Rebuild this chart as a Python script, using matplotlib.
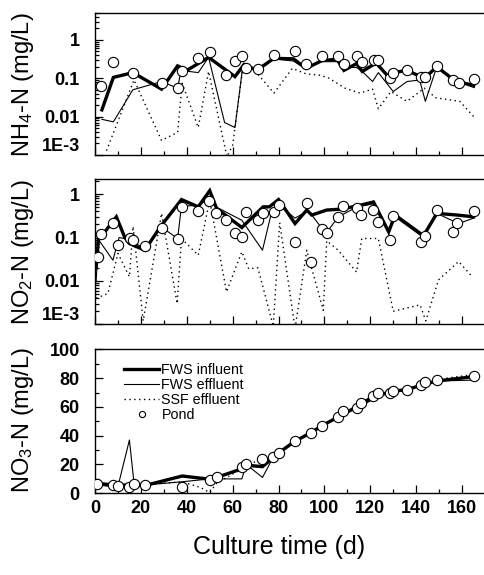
import numpy as np
import matplotlib
matplotlib.use('Agg')
from matplotlib import pyplot as plt
from matplotlib.ticker import LogLocator, NullFormatter, FixedLocator, MultipleLocator

plt.rcParams['font.family'] = ['Liberation Sans', 'DejaVu Sans']
plt.rcParams['mathtext.fontset'] = 'custom'
plt.rcParams['mathtext.rm'] = 'Liberation Sans'
plt.rcParams['mathtext.it'] = 'Liberation Sans:italic'
plt.rcParams['mathtext.bf'] = 'Liberation Sans:bold'

# ---- NH4-N panel
nh4_in_d = [3, 8, 16.5, 29, 36, 40, 49.5, 61, 65, 70.5, 78, 86.5, 92, 99, 105.5, 108.5, 114, 116.5,
            122.5, 128.5, 130, 136, 142, 144, 149, 156, 165]
nh4_in_v = [0.015, 0.105, 0.14, 0.052, 0.21, 0.16, 0.35, 0.11, 0.23, 0.16, 0.33, 0.32, 0.18, 0.29,
            0.31, 0.16, 0.24, 0.15, 0.25, 0.10, 0.14, 0.16, 0.11, 0.105, 0.20, 0.094, 0.062]
nh4_eff_d = [3, 8, 16.5, 29, 36, 37.5, 45, 49.5, 56.5, 61, 64.5, 70.5, 78, 86.5, 91.5, 98, 105.5,
             108.5, 114, 116, 121, 123.5, 130, 136, 141.5, 144, 149, 156, 165]
nh4_eff_v = [0.0085, 0.0073, 0.05, 0.082, 0.055, 0.16, 0.14, 0.35, 0.0070, 0.0052, 0.22, 0.16, 0.32,
             0.28, 0.18, 0.27, 0.27, 0.2, 0.19, 0.16, 0.082, 0.14, 0.045, 0.082, 0.09, 0.025, 0.20,
             0.09, 0.07]
nh4_ssf_d = [5, 17, 29, 36, 38, 45, 49.5, 57.5, 60, 64.5, 70, 78, 86, 92, 98, 102, 109, 115.5, 121,
             123.5, 129, 136, 143.5, 148.5, 159, 165.5]
nh4_ssf_v = [0.0013, 0.09, 0.0024, 0.0039, 0.074, 0.0052, 0.15, 0.0009, 0.0018, 0.2, 0.15, 0.041,
             0.18, 0.13, 0.12, 0.10, 0.055, 0.041, 0.052, 0.016, 0.045, 0.025, 0.055, 0.031, 0.025,
             0.0094]
nh4_pond_d = [2.5, 8, 16.5, 29, 36, 38, 45, 50, 57, 61, 64, 66, 71, 78, 87, 92, 99, 106, 108.5, 114,
              116.5, 121.5, 123.5, 128.5, 130, 136, 142, 144, 149, 156, 158.5, 165]
nh4_pond_v = [0.063, 0.27, 0.14, 0.077, 0.055, 0.15, 0.33, 0.49, 0.125, 0.28, 0.38, 0.19, 0.17, 0.41,
              0.51, 0.24, 0.37, 0.37, 0.24, 0.38, 0.27, 0.30, 0.30, 0.10, 0.14, 0.16, 0.11, 0.106,
              0.21, 0.09, 0.077, 0.096]

# ---- NO2-N panel
no2_in_d = [0.5, 1.5, 3, 9.3, 13, 15, 21.7, 28.6, 37.7, 45, 50, 53, 64, 73.3, 76, 80, 87.2, 92.3,
            94.5, 101, 106.8, 114, 121.4, 128, 130.8, 143.2, 149, 157.8, 165]
no2_in_v = [0.02, 0.09, 0.11, 0.30, 0.10, 0.073, 0.051, 0.18, 0.75, 0.51, 1.2, 0.47, 0.17, 0.51,
            0.51, 0.75, 0.21, 0.43, 0.33, 0.43, 0.45, 0.53, 0.66, 0.135, 0.33, 0.11, 0.36, 0.33, 0.30]
no2_eff_d = [0.5, 1.5, 7.8, 10.5, 15, 21.7, 28.6, 36, 37.7, 45, 50, 53, 64, 73, 77, 80.3, 87.2, 92.3,
             94.5, 99, 101, 106, 114, 121.4, 128, 130.8, 143.2, 149, 158.5, 165]
no2_eff_v = [0.01, 0.09, 0.030, 0.10, 0.09, 0.055, 0.18, 0.095, 0.53, 0.55, 0.8, 0.5, 0.25, 0.051,
             0.39, 0.55, 0.28, 0.40, 0.33, 0.16, 0.13, 0.30, 0.50, 0.60, 0.14, 0.30, 0.10, 0.36,
             0.21, 0.28]
no2_ssf_d = [0.5, 5.6, 10, 15, 16.6, 21, 29, 35.8, 37.7, 45, 50, 57.3, 64, 67, 71, 77.7, 80.5, 87.2,
             92.3, 99.5, 101, 106, 114, 116.3, 123.5, 130, 141.7, 144.2, 149.7, 158.5, 164.5]
no2_ssf_v = [0.004, 0.0051, 0.043, 0.0125, 0.18, 0.0012, 0.36, 0.003, 0.095, 0.039, 0.73, 0.0056,
             0.047, 0.019, 0.02, 0.0009, 0.22, 0.0008, 0.051, 0.0021, 0.084, 0.051, 0.016, 0.095,
             0.095, 0.002, 0.0028, 0.0012, 0.0105, 0.028, 0.0124]
no2_pond_d = [1.3, 2.7, 7.8, 10, 15.4, 16.6, 22, 29, 36, 38, 45, 49.8, 52.7, 57, 61, 64, 66, 71.2,
              73.3, 78, 80, 87.2, 92.3, 94, 99, 101.3, 106, 108.3, 114, 116, 121, 123.3, 128.4, 130,
              142, 144, 149, 156, 158, 165]
no2_pond_v = [0.035, 0.12, 0.22, 0.067, 0.095, 0.09, 0.063, 0.17, 0.092, 0.51, 0.41, 0.70, 0.37,
              0.26, 0.13, 0.105, 0.39, 0.25, 0.36, 0.39, 0.56, 0.08, 0.61, 0.027, 0.16, 0.13, 0.30,
              0.53, 0.49, 0.33, 0.43, 0.23, 0.087, 0.31, 0.08, 0.11, 0.43, 0.135, 0.22, 0.41]

# ---- NO3-N panel
no3_in_d = [0.5, 8, 22, 38, 50, 53, 64, 66, 73, 80, 87, 94, 99, 106, 114, 121, 130, 136, 142, 149, 165]
no3_in_v = [7, 5.8, 5.5, 12, 9.8, 11, 17, 19.5, 18.5, 28, 36, 42, 47, 53, 60, 67, 71, 72, 75, 78, 81]
no3_eff_d = [0.5, 8, 10, 15, 17, 22, 38, 50, 64, 66, 73, 77, 80, 87, 94, 99, 106, 114, 121, 130, 136,
             142, 149, 165]
no3_eff_v = [5.8, 4.6, 4.8, 37, 7, 5.8, 8, 10, 10, 20, 11, 23, 28, 36, 42, 47, 53, 59, 65, 71, 72,
             74.5, 78, 78.6]
no3_ssf_d = [0.5, 8, 22, 38, 46, 50, 53, 64, 66, 70, 73, 80, 87, 94, 99, 106, 114, 121, 130, 136, 142,
             149, 165]
no3_ssf_v = [6, 5, 6, 8, 4, 0.5, 7, 17, 19, 22, 21, 28, 36, 42, 47, 53, 60, 66, 71, 72, 75, 79, 82.5]
no3_pond_d = [1, 7.8, 10, 15, 17, 22, 38, 50, 53, 64, 66, 73, 77.5, 80, 87, 94, 99, 106, 108.3, 114,
              116, 121, 123.3, 128.4, 130, 136, 142, 144, 149, 165]
no3_pond_v = [6.5, 5.8, 5.1, 4.6, 6.5, 6, 4.6, 9.2, 11, 18.5, 20, 24, 25.4, 28.2, 36.3, 42, 47, 53,
              57, 59, 63, 67.6, 69.4, 70, 71.3, 71.7, 75.2, 77.5, 78.7, 81.7]

labels = ['FWS influent', 'FWS effluent', 'SSF effluent', 'Pond']

fig = plt.figure(figsize=(4.85, 5.75), dpi=100)
ax1 = fig.add_axes([0.1959, 0.7304, 0.8041, 0.2470])
ax2 = fig.add_axes([0.1959, 0.4360, 0.8041, 0.2522])
ax3 = fig.add_axes([0.1959, 0.1421, 0.8041, 0.2504])

panels = [
    (ax1, nh4_in_d, nh4_in_v, nh4_eff_d, nh4_eff_v, nh4_ssf_d, nh4_ssf_v, nh4_pond_d, nh4_pond_v),
    (ax2, no2_in_d, no2_in_v, no2_eff_d, no2_eff_v, no2_ssf_d, no2_ssf_v, no2_pond_d, no2_pond_v),
    (ax3, no3_in_d, no3_in_v, no3_eff_d, no3_eff_v, no3_ssf_d, no3_ssf_v, no3_pond_d, no3_pond_v),
]

for ax, d1, v1, d2, v2, d3, v3, d4, v4 in panels:
    ax.plot(d1, v1, color='black', lw=2.4, solid_joinstyle='miter', label=labels[0], zorder=3)
    ax.plot(d2, v2, color='black', lw=0.8, label=labels[1], zorder=2)
    ax.plot(d3, v3, color='black', lw=1.0, ls=(0, (1, 2.5)), label=labels[2], zorder=1)
    ax.plot(d4, v4, ls='none', marker='o', ms=7.4, mfc='white', mec='black', mew=0.8,
            label=labels[3], zorder=4)
    ax.set_xlim(0, 170)
    ax.spines['right'].set_visible(False)
    for s in ['left', 'top', 'bottom']:
        ax.spines[s].set_linewidth(1.0)
    ax.xaxis.set_major_locator(MultipleLocator(20))
    ax.xaxis.set_minor_locator(MultipleLocator(10))
    ax.tick_params(which='both', direction='in', top=False, right=False, width=0.9)
    ax.tick_params(which='major', length=5.5)
    ax.tick_params(which='minor', length=3)
    ax.tick_params(axis='y', labelsize=13, pad=11)
    ax.tick_params(axis='x', labelsize=13, pad=5)
    for t in ax.get_xticklabels() + ax.get_yticklabels():
        t.set_fontweight('bold')

for ax, top in [(ax1, 5), (ax2, 2.2)]:
    ax.set_yscale('log')
    ax.set_ylim(1e-3, top)
    ax.yaxis.set_major_locator(FixedLocator([1e-3, 1e-2, 1e-1, 1]))
    ax.yaxis.set_minor_locator(LogLocator(base=10, subs=np.arange(2, 10)))
    ax.yaxis.set_minor_formatter(NullFormatter())
    ax.set_yticklabels(['1E-3', '0.01', '0.1', '1'], fontweight='bold')
    ax.get_yticklabels()[0].set_verticalalignment('bottom')
    ax.set_xticklabels([])

ax3.set_ylim(0, 100)
ax3.yaxis.set_major_locator(MultipleLocator(20))
ax3.yaxis.set_minor_locator(MultipleLocator(10))
ax3.set_xticks(np.arange(0, 161, 20))
ax3.set_xticklabels([str(v) for v in range(0, 161, 20)], fontweight='bold')

ax3.legend(loc='upper left', bbox_to_anchor=(0.075, 0.905), frameon=False, fontsize=10.3,
           borderpad=0, borderaxespad=0, handlelength=2.45, handletextpad=0.15,
           labelspacing=0.08, markerscale=0.6)

ylab_kw = dict(rotation=90, ha='center', va='center', fontsize=17)
fig.text(23 / 485, 1 - 85 / 575, 'NH$_4$-N (mg/L)', **ylab_kw)
fig.text(23 / 485, 1 - 252 / 575, 'NO$_2$-N (mg/L)', **ylab_kw)
fig.text(23 / 485, 1 - 420 / 575, 'NO$_3$-N (mg/L)', **ylab_kw)
fig.text(279 / 485, 1 - 547 / 575, 'Culture time (d)', ha='center', va='center', fontsize=18)

fig.savefig('out.png', dpi=100)
